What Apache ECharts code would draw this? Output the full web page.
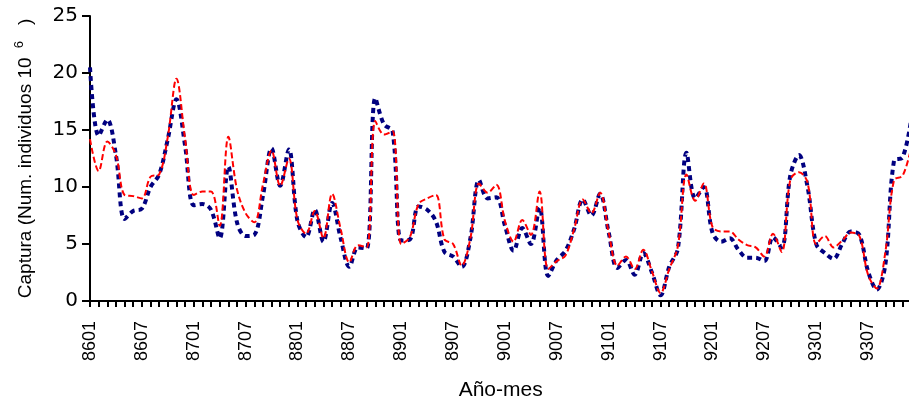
<!DOCTYPE html>
<html>
<head>
<meta charset="utf-8">
<script src="https://cdn.jsdelivr.net/npm/echarts@6/dist/echarts.min.js"></script>
<style>
html,body{margin:0;padding:0;background:#fff;}
#chart{width:909px;height:400px;}
</style>
</head>
<body>
<div id="chart"></div>
<script>
const categories = [
'8601','8602','8603','8604','8605','8606','8607','8608','8609','8610','8611','8612',
'8701','8702','8703','8704','8705','8706','8707','8708','8709','8710','8711','8712',
'8801','8802','8803','8804','8805','8806','8807','8808','8809','8810','8811','8812',
'8901','8902','8903','8904','8905','8906','8907','8908','8909','8910','8911','8912',
'9001','9002','9003','9004','9005','9006','9007','9008','9009','9010','9011','9012',
'9101','9102','9103','9104','9105','9106','9107','9108','9109','9110','9111','9112',
'9201','9202','9203','9204','9205','9206','9207','9208','9209','9210','9211','9212',
'9301','9302','9303','9304','9305','9306','9307','9308','9309','9310','9311','9312'
];
const observed = [
20.5, 14.5, 15.9, 12.8, 7.2, 7.9, 8.1, 10.0, 11.1, 14.2,
17.7, 13.6, 8.4, 8.5, 8.0, 5.5, 11.8, 6.9, 5.7, 5.8,
9.2, 13.4, 10.1, 13.3, 7.0, 5.6, 8.0, 5.2, 8.6, 5.5,
3.0, 4.7, 4.6, 17.8, 15.5, 14.9, 5.3, 5.4, 8.3, 8.0,
7.0, 4.3, 3.9, 3.0, 5.5, 10.6, 9.0, 9.1, 6.6, 4.4,
6.4, 5.0, 8.2, 2.2, 3.6, 4.4, 6.3, 8.9, 7.5, 9.4,
6.0, 2.9, 3.6, 2.3, 4.2, 2.5, 0.5, 3.0, 4.6, 13.0,
9.0, 10.0, 6.0, 5.2, 5.5, 4.5, 3.8, 3.8, 3.5, 5.6,
4.7, 11.0, 12.8, 10.0, 5.0, 4.2, 3.7, 5.0, 6.1, 5.8,
2.6, 1.0, 3.2, 12.3, 12.6, 16.0
];
const modelled = [
14.2, 11.4, 14.0, 12.8, 9.3, 9.2, 9.0, 10.9, 11.1, 14.4,
19.5, 14.2, 9.3, 9.6, 9.6, 6.6, 14.4, 9.8, 7.7, 6.9,
10.2, 13.2, 10.1, 12.5, 7.1, 5.9, 7.9, 5.5, 9.4, 6.3,
3.4, 4.9, 4.7, 15.8, 14.6, 14.9, 5.0, 5.6, 8.5, 9.0,
9.3, 5.4, 5.0, 3.1, 5.5, 10.3, 9.5, 10.2, 7.0, 5.2,
7.1, 5.8, 9.6, 2.8, 3.5, 4.0, 6.3, 8.9, 7.7, 9.5,
6.0, 3.1, 3.9, 2.8, 4.5, 2.6, 0.7, 2.8, 4.8, 11.1,
8.8, 10.3, 6.5, 6.1, 6.1, 5.4, 4.9, 4.7, 3.9, 5.9,
4.3, 10.6, 11.3, 10.4, 5.0, 5.7, 4.7, 5.3, 6.0, 5.7,
2.3, 1.1, 4.3, 10.6, 11.0, 13.5
];
const yTicks = [0, 5, 10, 15, 20, 25];

const FONT = '"Liberation Sans", Arial, sans-serif';
const chart = echarts.init(document.getElementById('chart'), null, {renderer: 'canvas'});
chart.setOption({
  animation: false,
  backgroundColor: '#ffffff',
  grid: {left: 90, top: 16, width: 821.3, height: 285, containLabel: false, outerBoundsMode: 'none'},
  xAxis: {
    type: 'category',
    data: categories,
    boundaryGap: false,
    name: 'Año-mes',
    nameLocation: 'middle',
    nameGap: 79,
    nameTextStyle: {fontFamily: FONT, fontSize: 21, color: '#000'},
    axisLine: {lineStyle: {color: '#000', width: 2}},
    axisTick: {show: true, interval: 0, length: 6, lineStyle: {color: '#000', width: 2}},
    axisLabel: {interval: 5, rotate: 90, margin: 20, fontFamily: FONT, fontSize: 18, color: '#000'},
    splitLine: {show: false}
  },
  yAxis: {
    type: 'value',
    min: yTicks[0],
    max: yTicks[yTicks.length - 1],
    interval: 5,
    name: '{a|Captura (Num. individuos 10 }{s|6}{a|   )}',
    nameLocation: 'middle',
    nameRotate: 90,
    nameGap: 55,
    nameTextStyle: {
      rich: {
        a: {fontFamily: FONT, fontSize: 19, color: '#000', verticalAlign: 'bottom', lineHeight: 22},
        s: {fontFamily: FONT, fontSize: 13, color: '#000', verticalAlign: 'top', lineHeight: 22, padding: [0, 0, 0, 4]}
      }
    },
    axisLine: {show: true, lineStyle: {color: '#000', width: 2}},
    axisTick: {show: true, length: 8, lineStyle: {color: '#000', width: 2}},
    axisLabel: {margin: 12, fontFamily: '"DejaVu Sans", sans-serif', fontSize: 20, color: '#000'},
    splitLine: {show: false}
  },
  series: [
    {
      name: 'Observada',
      type: 'line',
      data: observed,
      smooth: 0.35,
      symbol: 'none',
      lineStyle: {color: '#000080', width: 4, type: [5, 4]},
      z: 2
    },
    {
      name: 'Estimada',
      type: 'line',
      data: modelled,
      smooth: 0.35,
      symbol: 'none',
      lineStyle: {color: '#ff0000', width: 2, type: [6, 3]},
      z: 3
    }
  ]
});
</script>
</body>
</html>
